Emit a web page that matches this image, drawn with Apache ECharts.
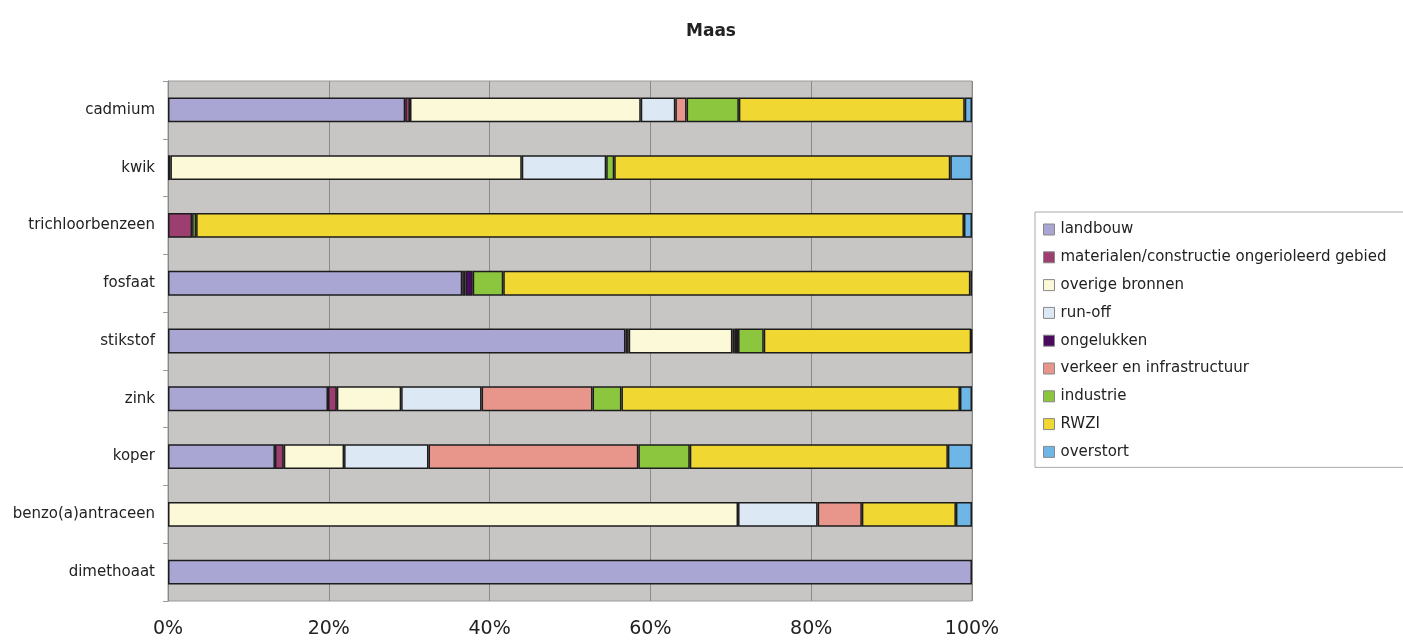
<!DOCTYPE html>
<html>
<head>
<meta charset="utf-8">
<script src="https://cdn.jsdelivr.net/npm/echarts@6/dist/echarts.min.js"></script>
<style>html,body{margin:0;padding:0;background:#fff;}#chart{width:1403px;height:641px;}</style>
</head>
<body>
<div id="chart"></div>
<script>
const categories = ['cadmium','kwik','trichloorbenzeen','fosfaat','stikstof','zink','koper','benzo(a)antraceen','dimethoaat'];
const seriesNames = ['landbouw','materialen/constructie ongerioleerd gebied','overige bronnen','run-off','ongelukken','verkeer en infrastructuur','industrie','RWZI','overstort'];
const landbouw   = [29.5, 0,    0,    36.6, 56.9, 19.9, 13.3, 0,    100];
const materialen = [0.6,  0.3,  3.0,  0.4,  0.4,  1.1,  1.1,  0,    0];
const overige    = [28.7, 43.7, 0,    0,    12.9, 8.0,  7.5,  70.9, 0];
const runoff     = [4.3,  10.5, 0,    0,    0.3,  10.0, 10.5, 9.9,  0];
const ongelukken = [0,    0,    0,    0.9,  0.4,  0,    0,    0,    0];
const verkeer    = [1.4,  0,    0,    0,    0,    13.8, 26.1, 5.5,  0];
const industrie  = [6.5,  1.0,  0.5,  3.8,  3.2,  3.6,  6.4,  0,    0];
const rwzi       = [28.1, 41.8, 95.5, 58.1, 25.8, 42.1, 32.1, 11.7, 0];
const overstort  = [0.9,  2.7,  1.0,  0.2,  0.1,  1.5,  3.0,  2.0,  0];
const xTicks = [0, 20, 40, 60, 80, 100];

const values = [landbouw, materialen, overige, runoff, ongelukken, verkeer, industrie, rwzi, overstort];
const colors = ['#aaa6d4','#9c3f70','#fbf9d8','#dce9f4','#4a0b5f','#e8958c','#8cc63f','#f0d732','#6db6e6'];

const chart = echarts.init(document.getElementById('chart'));
const font = 'DejaVu Sans';
chart.setOption({
  animation: false,
  backgroundColor: '#fff',
  title: {
    text: 'Maas', left: 706, top: 18, textAlign: 'center',
    textStyle: { fontFamily: font, fontSize: 17, fontWeight: 'bold', color: '#222' }
  },
  legend: {
    orient: 'vertical', left: 1035, top: 212,
    padding: [10, 40, 8, 8],
    itemWidth: 11, itemHeight: 11, itemGap: 12.8,
    borderColor: '#aaa', borderWidth: 1,
    icon: 'rect',
    itemStyle: { borderColor: '#888', borderWidth: 1 },
    textStyle: { fontFamily: font, fontSize: 15, lineHeight: 15, color: '#222', padding: [0,0,0,1] },
    data: seriesNames
  },
  grid: {
    left: 168, right: 431, top: 81, bottom: 40,
    show: true, backgroundColor: '#c8c6c4', borderColor: '#9a9a9a', borderWidth: 1
  },
  xAxis: {
    type: 'value', min: 0, max: 100, interval: 20,
    axisLabel: { formatter: v => xTicks.includes(v) ? v + '%' : '', fontFamily: font, fontSize: 19, color: '#222', margin: 19 },
    splitLine: { show: true, lineStyle: { color: '#8a8a8a', width: 1 } },
    axisLine: { show: false }, axisTick: { show: false }
  },
  yAxis: {
    type: 'category', data: categories, inverse: true,
    axisLine: { show: true, lineStyle: { color: '#888' } },
    axisTick: { show: true, length: 5, lineStyle: { color: '#999' } },
    axisLabel: { fontFamily: font, fontSize: 15, color: '#222', margin: 13 }
  },
  series: seriesNames.map((name, i) => ({
    name, type: 'bar', stack: 'total', barWidth: '43%',
    itemStyle: { color: colors[i], borderColor: '#1c1c1c', borderWidth: 1.5 },
    data: values[i].map(v => v === 0 ? '-' : v)
  }))
});
</script>
</body>
</html>
